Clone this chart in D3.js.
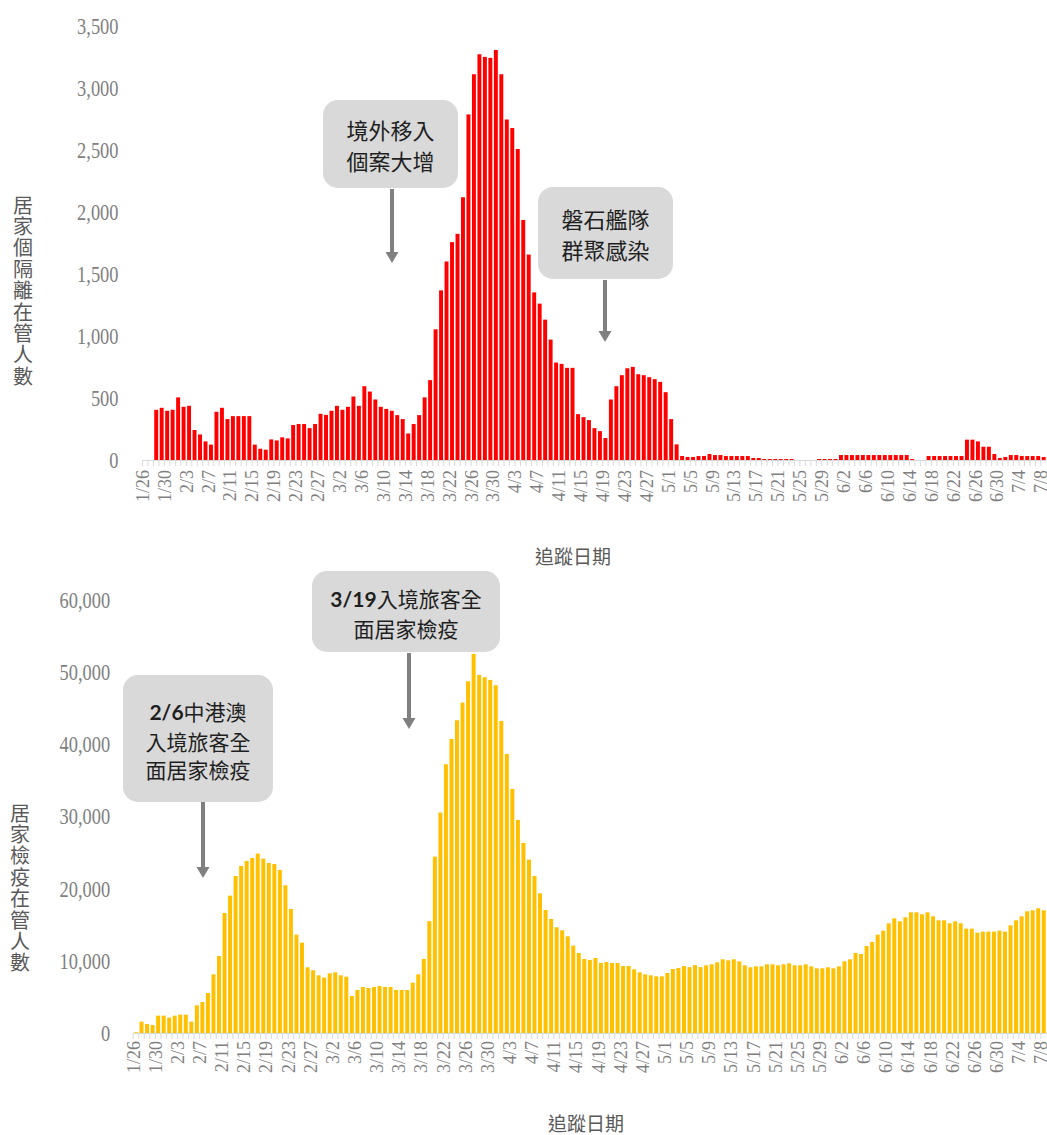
<!DOCTYPE html>
<html lang="zh-Hant">
<head>
<meta charset="UTF-8">
<title>居家隔離與居家檢疫在管人數</title>
<script src="https://cdn.jsdelivr.net/npm/d3@7"></script>
<style>
  body { margin: 0; background: #fff; }
</style>
</head>
<body>
<div id="chart"></div>
<script>
// every day from 1/26 to 7/8 (2020) is one bar slot
const firstDay = new Date(2020, 0, 26), lastDay = new Date(2020, 6, 8);
const days = d3.timeDay.range(firstDay, d3.timeDay.offset(lastDay, 1)).map(d3.timeFormat("%-m/%-d"));
const dayLabels = days.filter((d, i) => i % 4 === 0);

// 居家隔離在管人數 (top, red)
const isolation = [
  0, 0, 405, 421, 397, 405, 505, 429, 437, 242,
  206, 150, 124, 389, 421, 330, 354, 354, 354, 354,
  124, 91, 83, 166, 158, 183, 174, 282, 290, 290,
  257, 290, 373, 364, 397, 437, 405, 429, 512, 437,
  595, 552, 488, 429, 412, 397, 362, 330, 214, 290,
  362, 505, 644, 1054, 1368, 1601, 1757, 1824, 2119, 2787,
  3111, 3272, 3251, 3243, 3307, 3111, 2746, 2677, 2508, 1936,
  1657, 1352, 1261, 1132, 971, 786, 775, 743, 743, 370,
  346, 322, 257, 233, 177, 488, 595, 684, 740, 751,
  692, 684, 668, 652, 630, 547, 330, 126, 32, 24,
  24, 32, 32, 48, 40, 40, 32, 32, 32, 32,
  32, 16, 16, 8, 8, 8, 8, 8, 8, 0,
  0, 0, 0, 8, 8, 8, 8, 40, 40, 40,
  40, 40, 40, 40, 40, 40, 40, 40, 40, 40,
  8, 0, 0, 32, 32, 32, 32, 32, 32, 32,
  164, 164, 150, 107, 107, 48, 16, 24, 40, 40,
  32, 32, 32, 32, 24
];

// 居家檢疫在管人數 (bottom, yellow)
const quarantine = [
  100, 1571, 1247, 1109, 2402, 2402, 2125, 2402, 2541, 2541,
  1571, 3835, 4297, 5544, 8131, 10672, 16632, 19034, 21760, 23146,
  23839, 24255, 24856, 24163, 23562, 23423, 22592, 20467, 17186, 13629,
  12520, 9101, 8686, 7993, 7669, 8270, 8408, 7993, 7808, 5128,
  5960, 6376, 6237, 6376, 6514, 6376, 6376, 5960, 5960, 5960,
  6976, 8131, 10256, 15500, 24440, 30538, 37237, 40748, 43336, 45784,
  48741, 52529, 49619, 49295, 48926, 48187, 43243, 38669, 33818, 29522,
  26334, 24024, 21760, 19358, 17048, 15800, 14645, 14230, 13398, 12104,
  11088, 10256, 10118, 10395, 9702, 9841, 9702, 9702, 9286, 9286,
  8824, 8408, 8131, 7993, 7854, 7854, 8316, 8870, 9009, 9263,
  9125, 9400, 9125, 9379, 9517, 9794, 10210, 10072, 10210, 9933,
  9379, 9101, 9240, 9240, 9517, 9517, 9379, 9517, 9656, 9379,
  9379, 9517, 9240, 8963, 8963, 9101, 8963, 9240, 9933, 10210,
  11088, 10949, 12058, 12613, 13629, 14183, 15200, 15893, 15477, 16031,
  16724, 16724, 16447, 16724, 16170, 15616, 15616, 15200, 15477, 15200,
  14461, 14461, 13906, 14045, 14045, 14045, 14183, 14045, 14923, 15616,
  16170, 16863, 17002, 17279, 17002
];

const isolationTicks = [0, 500, 1000, 1500, 2000, 2500, 3000, 3500];
const quarantineTicks = [0, 10000, 20000, 30000, 40000, 50000, 60000];

const serif = "'Liberation Serif', 'DejaVu Serif', serif";
const cjk = "'Noto Sans CJK TC', 'Noto Sans CJK SC', sans-serif";
const latinBold = "Lato, 'Open Sans', 'Liberation Sans', sans-serif";

const svg = d3.select("#chart").append("svg")
  .attr("width", 1047)
  .attr("height", 1135);

function drawPanel(cfg) {
  const g = svg.append("g");

  const x = d3.scaleBand()
    .domain(days)
    .range(cfg.xRange)
    .paddingInner(0.28)
    .paddingOuter(0.14);

  const y = d3.scaleLinear()
    .domain([0, cfg.max])
    .range([cfg.base, cfg.top]);

  // bars
  g.selectAll("rect")
    .data(cfg.values)
    .join("rect")
    .attr("x", (d, i) => x(days[i]))
    .attr("y", d => y(d))
    .attr("width", x.bandwidth())
    .attr("height", d => cfg.base - y(d))
    .attr("fill", cfg.color);

  // baseline and small day ticks between bars
  const dayAxis = g.append("g")
    .attr("transform", `translate(0,${cfg.base})`)
    .call(d3.axisBottom(x).tickSize(6).tickSizeOuter(0).tickFormat(""));
  dayAxis.selectAll(".tick")
    .attr("transform", d => `translate(${x(d) - x.step() * 0.14},0)`);
  dayAxis.selectAll("line, path").attr("stroke", "#d9d9d9");

  // date labels every 4 days
  const labelAxis = g.append("g")
    .attr("transform", `translate(0,${cfg.base})`)
    .call(d3.axisBottom(x).tickValues(dayLabels).tickSize(0))
    .attr("font-family", serif)
    .attr("font-size", 18);
  labelAxis.select(".domain").remove();
  labelAxis.selectAll("text")
    .attr("fill", "#7f7f7f")
    .attr("transform", "rotate(-90)")
    .attr("text-anchor", "end")
    .attr("x", -cfg.labelGap)
    .attr("y", 0)
    .attr("dy", "0.2em");

  // value axis
  const yAxis = g.append("g")
    .attr("transform", `translate(${cfg.xRange[0]},0)`)
    .call(d3.axisLeft(y).tickValues(cfg.ticks).tickFormat(d3.format(",")).tickSize(0).tickPadding(cfg.yPad))
    .attr("font-family", serif)
    .attr("font-size", 23);
  yAxis.select(".domain").remove();
  yAxis.selectAll("text")
    .attr("fill", "#7f7f7f")
    .each(function () {
      const w = this.getComputedTextLength();
      this.setAttribute("textLength", w * 0.8);
      this.setAttribute("lengthAdjust", "spacingAndGlyphs");
    });

  // vertical y title
  g.append("text")
    .attr("x", cfg.yTitlePos[0])
    .attr("y", cfg.yTitlePos[1])
    .attr("font-family", cjk)
    .attr("font-size", 20)
    .attr("fill", "#595959")
    .style("writing-mode", "vertical-rl")
    .style("letter-spacing", "1.4px")
    .text(cfg.yTitle);

  // x title
  g.append("text")
    .attr("x", cfg.xTitlePos[0])
    .attr("y", cfg.xTitlePos[1])
    .attr("font-family", cjk)
    .attr("font-size", 19)
    .attr("fill", "#595959")
    .attr("text-anchor", "middle")
    .attr("dominant-baseline", "central")
    .text("追蹤日期");

  // callout boxes with arrows
  cfg.notes.forEach(n => {
    g.append("rect")
      .attr("x", n.box[0]).attr("y", n.box[1])
      .attr("width", n.box[2]).attr("height", n.box[3])
      .attr("rx", 15)
      .attr("fill", "#d9d9d9");

    const cx = n.box[0] + n.box[2] / 2;
    n.lines.forEach((line, li) => {
      const t = g.append("text")
        .attr("x", cx)
        .attr("y", n.lineY[li])
        .attr("text-anchor", "middle")
        .attr("dominant-baseline", "central")
        .attr("font-size", n.size)
        .attr("fill", "#1f1f1f");
      line.forEach(seg => {
        t.append("tspan")
          .attr("font-family", seg[1] ? latinBold : cjk)
          .attr("font-weight", seg[1] ? 700 : 400)
          .text(seg[0]);
      });
    });

    const ax = n.arrow[0], y1 = n.arrow[1], y2 = n.arrow[2];
    g.append("line")
      .attr("x1", ax).attr("x2", ax)
      .attr("y1", y1).attr("y2", y2 - 9)
      .attr("stroke", "#808080")
      .attr("stroke-width", 4);
    g.append("path")
      .attr("d", `M${ax - 6.5},${y2 - 11}L${ax + 6.5},${y2 - 11}L${ax},${y2}Z`)
      .attr("fill", "#808080");
  });
}

drawPanel({
  values: isolation,
  color: "#ff0000",
  max: 3500,
  ticks: isolationTicks,
  xRange: [142.5, 1046.4],
  base: 460,
  top: 26,
  labelGap: 10,
  yPad: 24,
  yTitle: "居家個隔離在管人數",
  yTitlePos: [23, 195],
  xTitlePos: [573, 555],
  notes: [
    { box: [323, 100, 135, 88], size: 22, lines: [[["境外移入", false]], [["個案大增", false]]],
      lineY: [129, 160], arrow: [392, 189, 263] },
    { box: [538, 187, 135, 92], size: 22, lines: [[["磐石艦隊", false]], [["群聚感染", false]]],
      lineY: [218, 249], arrow: [605, 280, 342] }
  ]
});

drawPanel({
  values: quarantine,
  color: "#ffc000",
  max: 60000,
  ticks: quarantineTicks,
  xRange: [133.2, 1046.5],
  base: 1033,
  top: 600,
  labelGap: 8,
  yPad: 23,
  yTitle: "居家檢疫在管人數",
  yTitlePos: [20, 803],
  xTitlePos: [586, 1122],
  notes: [
    { box: [123, 675, 150, 127], size: 21,
      lines: [[["2/6", true], ["中港澳", false]], [["入境旅客全", false]], [["面居家檢疫", false]]],
      lineY: [711, 741, 769], arrow: [203, 802, 878] },
    { box: [312, 571, 188, 81], size: 21,
      lines: [[["3/19", true], ["入境旅客全", false]], [["面居家檢疫", false]]],
      lineY: [598, 628], arrow: [409, 653, 729] }
  ]
});
</script>
</body>
</html>
